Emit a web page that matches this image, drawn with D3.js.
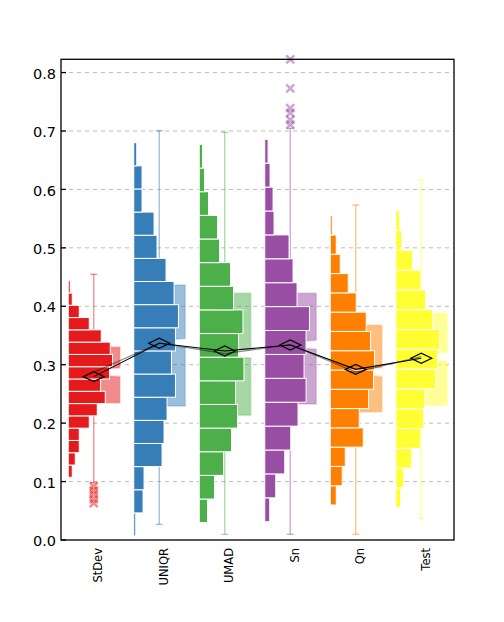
<!DOCTYPE html>
<html lang="en">
<head>
  <meta charset="UTF-8" />
  <title>Histogram box plot</title>
  <script src="https://d3js.org/d3.v7.min.js"></script>
  <style>
    body { margin: 0; background: #fff; font-family: 'DejaVu Sans', sans-serif; }
    svg { display: block; }
  </style>
</head>
<body>
  <svg width="504" height="622"></svg>

  <script>
    const categories = ["StDev", "UNIQR", "UMAD", "Sn", "Qn", "Test"];
    const colors = ["#e41a1c", "#377eb8", "#4daf4a", "#984ea3", "#ff7f00", "#ffff33"];

    // histogram range per category (bottom / top of the bars) and bar lengths, bottom -> top
    const histLow  = [0.1073, 0.0068, 0.0297, 0.0313, 0.0599, 0.0553];
    const histHigh = [0.4438, 0.6800, 0.6770, 0.6858, 0.5550, 0.5636];
    const histStDev = [3, 6, 10, 10, 20, 28, 36, 31.3, 40.3, 43.3, 41, 32, 20, 10, 3, 1];
    const histUNIQR = [1, 8.3, 9.3, 27.3, 29.3, 32.3, 40.7, 36.7, 40.7, 43.7, 39.3, 31.3, 22.3, 19.3, 7.3, 7.3, 2];
    const histUMAD  = [7.3, 14.3, 23.3, 31.3, 37.3, 35.3, 43.7, 38.3, 42.7, 33.3, 30.3, 19.3, 17.3, 8.3, 4.3, 2.3];
    const histSn    = [4, 10, 19, 25, 32.3, 40.3, 38.3, 40.3, 43.7, 31.3, 27.3, 23.3, 8.3, 7.3, 4.3, 2.3];
    const histQn    = [5, 11, 14, 32, 28, 37.3, 42.3, 43.3, 39.3, 35, 25, 17, 9, 5, 1];
    const histTest  = [4, 7, 15, 24, 27, 28, 39, 41, 43, 36, 29, 24, 16, 5, 3];
    const hists = [histStDev, histUNIQR, histUMAD, histSn, histQn, histTest];

    const q1     = [0.2350, 0.2293, 0.2134, 0.2328, 0.2196, 0.2305];
    const median = [0.2872, 0.3370, 0.3190, 0.3343, 0.2873, 0.3137];
    const q3     = [0.3298, 0.4364, 0.4222, 0.4222, 0.3674, 0.3880];
    const whiskLo = [0.0980, 0.0268, 0.0097, 0.0098, 0.0098, 0.0370];
    const whiskHi = [0.4547, 0.7005, 0.6977, 0.7046, 0.5733, 0.6156];
    const means  = [0.2796, 0.3367, 0.3235, 0.3337, 0.2920, 0.3110];
    const outliers = [
      [0.092, 0.085, 0.078, 0.070, 0.063],
      [], [],
      [0.8227, 0.773, 0.739, 0.731, 0.719, 0.711],
      [], []
    ];
    const yTicks = [0, 0.1, 0.2, 0.3, 0.4, 0.5, 0.6, 0.7, 0.8];

    const svg = d3.select("svg");
    const plotL = 61, plotR = 454, plotT = 59.3, plotB = 540;

    const x = d3.scaleBand().domain(categories).range([plotL, plotR]).padding(0);
    const y = d3.scaleLinear().domain([0, 0.8227]).range([plotB, plotT]);
    const len = d3.scaleLinear().domain([0, 44]).range([0, 44]);
    const cx = i => x(categories[i]) + x.bandwidth() / 2;

    // grid
    svg.append("g").selectAll("line")
      .data(yTicks.filter(d => d > 0))
      .join("line")
      .attr("x1", plotL).attr("x2", plotR)
      .attr("y1", d => y(d)).attr("y2", d => y(d))
      .attr("stroke", "#bbb").attr("stroke-width", 1)
      .attr("stroke-dasharray", "4,4");

    categories.forEach((c, i) => {
      const g = svg.append("g");
      const col = colors[i];
      const xc = cx(i);

      // whisker
      g.append("line")
        .attr("x1", xc).attr("x2", xc)
        .attr("y1", y(whiskLo[i])).attr("y2", y(whiskHi[i]))
        .attr("stroke", col).attr("stroke-opacity", 0.5).attr("stroke-width", 1.3);
      [whiskLo[i], whiskHi[i]].forEach(v => {
        g.append("line")
          .attr("x1", xc - 3.5).attr("x2", xc + 3.5)
          .attr("y1", y(v)).attr("y2", y(v))
          .attr("stroke", col).attr("stroke-opacity", 0.5).attr("stroke-width", 1.3);
      });

      // box, split at the median
      const bx0 = xc - 5, bx1 = xc + 26, gap = 2.5, slant = 2;
      const ym = y(median[i]);
      g.append("path")
        .attr("d", `M${bx0},${y(q3[i])}L${bx1},${y(q3[i])}L${bx1},${ym - gap - slant}L${bx0},${ym - gap}Z`)
        .attr("fill", col).attr("fill-opacity", 0.5)
        .attr("stroke", col).attr("stroke-opacity", 0.2).attr("stroke-width", 2);
      g.append("path")
        .attr("d", `M${bx0},${ym + gap}L${bx1},${ym + gap + slant}L${bx1},${y(q1[i])}L${bx0},${y(q1[i])}Z`)
        .attr("fill", col).attr("fill-opacity", 0.5)
        .attr("stroke", col).attr("stroke-opacity", 0.2).attr("stroke-width", 2);

      // outliers
      outliers[i].forEach(v => {
        const s = 4;
        g.append("path")
          .attr("d", `M${xc - s},${y(v) - s}L${xc + s},${y(v) + s}M${xc - s},${y(v) + s}L${xc + s},${y(v) - s}`)
          .attr("stroke", col).attr("stroke-opacity", 0.5).attr("stroke-width", 2.5);
      });

      // histogram (1px added so the white outline does not eat the thin bars)
      const h = hists[i];
      const step = (histHigh[i] - histLow[i]) / h.length;
      g.append("g").selectAll("rect")
        .data(h)
        .join("rect")
        .attr("x", xc - 25.5)
        .attr("y", (d, k) => y(histLow[i] + (k + 1) * step))
        .attr("width", d => len(d) + 1)
        .attr("height", (d, k) => y(histLow[i] + k * step) - y(histLow[i] + (k + 1) * step))
        .attr("fill", col)
        .attr("stroke", "#fff").attr("stroke-width", 1);
    });

    // median and mean lines
    const line = d3.line().x(d => cx(d.i)).y(d => y(d.v));
    svg.append("path")
      .attr("d", line(median.map((v, i) => ({i, v}))))
      .attr("fill", "none").attr("stroke", "#000").attr("stroke-opacity", 0.45).attr("stroke-width", 1.2);
    svg.append("path")
      .attr("d", line(means.map((v, i) => ({i, v}))))
      .attr("fill", "none").attr("stroke", "#000").attr("stroke-width", 1.1);

    // mean diamonds
    svg.append("g").selectAll("path")
      .data(means)
      .join("path")
      .attr("d", (v, i) => {
        const xc = cx(i), yc = y(v);
        return `M${xc - 10.5},${yc}L${xc},${yc - 5}L${xc + 10.5},${yc}L${xc},${yc + 5}Z`;
      })
      .attr("fill", "none").attr("stroke", "#000").attr("stroke-width", 1.2);

    // frame
    svg.append("rect")
      .attr("x", plotL).attr("y", plotT)
      .attr("width", plotR - plotL).attr("height", plotB - plotT)
      .attr("fill", "none").attr("stroke", "#000").attr("stroke-width", 1.3);

    // y axis ticks and labels
    const yAxis = svg.append("g");
    yAxis.selectAll("line")
      .data(yTicks)
      .join("line")
      .attr("x1", plotL).attr("x2", plotL + 5)
      .attr("y1", d => y(d)).attr("y2", d => y(d))
      .attr("stroke", "#000").attr("stroke-width", 1.3);
    yAxis.selectAll("text")
      .data(yTicks)
      .join("text")
      .attr("x", 56).attr("y", d => y(d))
      .attr("dy", "0.42em")
      .attr("text-anchor", "end")
      .attr("font-size", "14.5px")
      .attr("fill", "#000")
      .text(d3.format(".1f"));

    // category labels
    svg.append("g").selectAll("text")
      .data(categories)
      .join("text")
      .attr("transform", (d, i) => `translate(${cx(i) + 4.5},548) rotate(-90)`)
      .attr("dy", "0.35em")
      .attr("text-anchor", "end")
      .attr("font-size", "11.5px")
      .attr("fill", "#000")
      .text(d => d);
  </script>
</body>
</html>
